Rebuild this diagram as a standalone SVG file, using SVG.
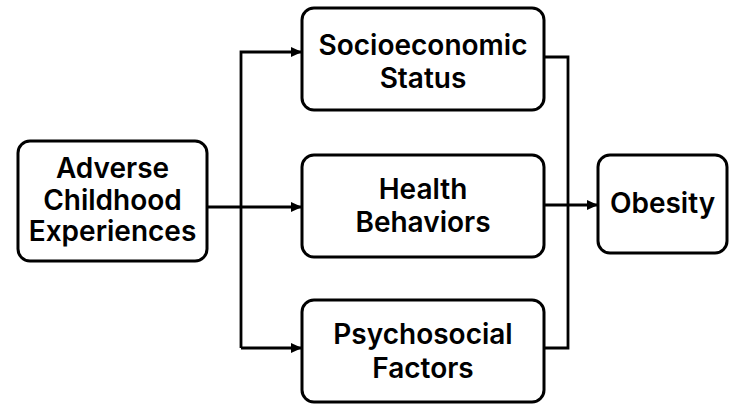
<svg xmlns="http://www.w3.org/2000/svg" width="750" height="411" viewBox="0 0 750 411">
<defs>
<style>
.box{fill:#fff;stroke:#000;stroke-width:3}
.lbl{font-family:Inter,"Liberation Sans",sans-serif;font-weight:600;font-size:28px;fill:#000;text-anchor:middle}
.ln{fill:none;stroke:#000;stroke-width:2.8}
</style>
<marker id="ah" markerWidth="11" markerHeight="10" refX="10" refY="5" orient="auto" markerUnits="userSpaceOnUse"><path d="M0,0 L11,5 L0,10 z" fill="#000"/></marker>
</defs>
<rect width="750" height="411" fill="#fff"/>
<g id="connectors">
<path class="ln" d="M207,207 H301" marker-end="url(#ah)"/>
<path class="ln" d="M241,348 V52 H301" marker-end="url(#ah)"/>
<path class="ln" d="M241,348 H301" marker-end="url(#ah)"/>
<path class="ln" d="M544,57 H568 V348 H545"/>
<path class="ln" d="M544,205 H597" marker-end="url(#ah)"/>
</g>
<g id="ace"><rect class="box" x="18" y="141" width="189" height="120" rx="12"/>
<text class="lbl" x="112.5" y="178">Adverse</text><text class="lbl" x="112.5" y="210">Childhood</text><text class="lbl" x="112.5" y="241">Experiences</text></g>
<g id="ses"><rect class="box" x="302" y="8" width="242" height="102" rx="12"/>
<text class="lbl" x="423" y="55">Socioeconomic</text><text class="lbl" x="423" y="88">Status</text></g>
<g id="health"><rect class="box" x="302" y="155" width="242" height="102" rx="12"/>
<text class="lbl" x="423" y="199">Health</text><text class="lbl" x="423" y="232">Behaviors</text></g>
<g id="psych"><rect class="box" x="302" y="300" width="242" height="102" rx="12"/>
<text class="lbl" x="423" y="344">Psychosocial</text><text class="lbl" x="423" y="378">Factors</text></g>
<g id="obesity"><rect class="box" x="598" y="155" width="129" height="98" rx="12"/>
<text class="lbl" x="662.5" y="213">Obesity</text></g>
</svg>
